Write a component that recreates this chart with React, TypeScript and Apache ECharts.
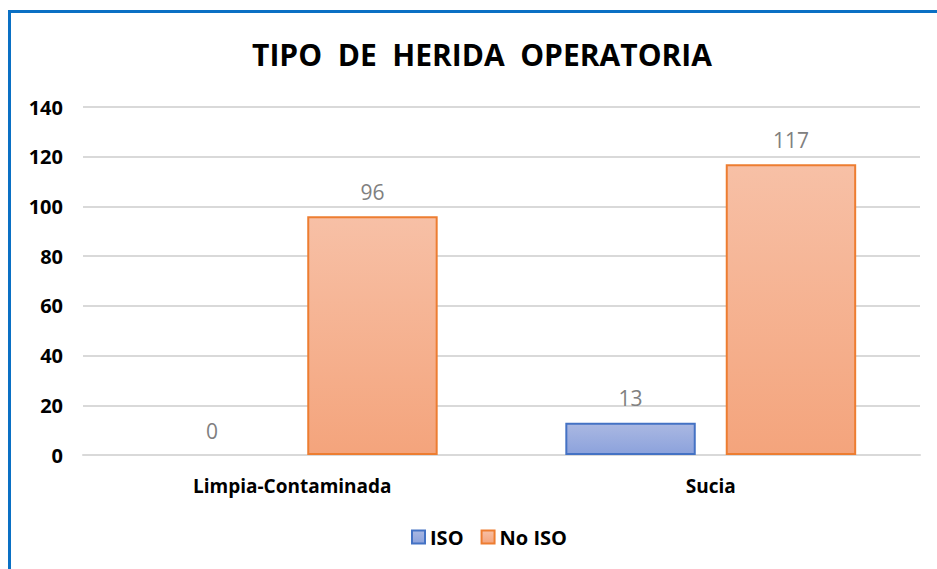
import React, { useEffect, useRef } from "react";
import * as echarts from "echarts";

const categories = ["Limpia-Contaminada", "Sucia"];
const isoValues = [0, 13];
const noIsoValues = [96, 117];
const seriesNames = ["ISO", "No ISO"];
const yTicks = { min: 0, max: 140, interval: 20 };

export default function App() {
  const ref = useRef<HTMLDivElement>(null);
  useEffect(() => {
    const chart = echarts.init(ref.current!, undefined, { renderer: "svg" });
    const font = "'Open Sans', 'Liberation Sans', sans-serif";
    const label = {
      show: true,
      position: "top",
      distance: 14,
      color: "#808080",
      fontSize: 21,
      fontFamily: font,
    };
    const toData = (vals: number[]) =>
      vals.map((v) => (v === 0 ? { value: v, itemStyle: { borderWidth: 0 } } : v));
    chart.setOption({
      animation: false,
      backgroundColor: "#ffffff",
      title: {
        text: "TIPO  DE  HERIDA  OPERATORIA",
        left: 477,
        textAlign: "center",
        top: 34,
        textStyle: { fontFamily: font, fontWeight: "bold", fontSize: 30, color: "#000000" },
      },
      graphic: [
        { type: "line", shape: { x1: 9.5, y1: 11, x2: 9.5, y2: 569 }, style: { stroke: "#0A70C4", lineWidth: 3 } },
        { type: "line", shape: { x1: 8, y1: 11.5, x2: 937, y2: 11.5 }, style: { stroke: "#0A70C4", lineWidth: 3 } },
      ],
      legend: {
        data: seriesNames,
        bottom: 17,
        left: 406,
        icon: "rect",
        itemWidth: 13,
        itemHeight: 13,
        itemGap: 17,
        itemTextGap: 6,
        textStyle: { fontFamily: font, fontWeight: "bold", fontSize: 20, color: "#000000" },
      },
      grid: { left: 83, right: 17, top: 107, bottom: 114 },
      xAxis: {
        type: "category",
        data: categories,
        axisLine: { lineStyle: { color: "#d9d9d9", width: 2 } },
        axisTick: { show: false },
        axisLabel: { fontFamily: font, fontWeight: "bold", fontSize: 19, color: "#000000", margin: 21 },
      },
      yAxis: {
        type: "value",
        min: yTicks.min,
        max: yTicks.max,
        interval: yTicks.interval,
        axisLine: { show: false },
        axisTick: { show: false },
        splitLine: { lineStyle: { color: "#d9d9d9", width: 2 } },
        axisLabel: { fontFamily: font, fontWeight: "bold", fontSize: 20, color: "#000000", margin: 20 },
      },
      series: [
        {
          name: seriesNames[0],
          type: "bar",
          data: toData(isoValues),
          barGap: "23%",
          barCategoryGap: "30.5%",
          itemStyle: {
            color: new echarts.graphic.LinearGradient(0, 0, 0, 1, [
              { offset: 0, color: "#AAB8E2" },
              { offset: 1, color: "#8CA2DC" },
            ]),
            borderColor: "#4472C4",
            borderWidth: 2,
          },
          label,
        },
        {
          name: seriesNames[1],
          type: "bar",
          data: toData(noIsoValues),
          itemStyle: {
            color: new echarts.graphic.LinearGradient(0, 0, 0, 1, [
              { offset: 0, color: "#F7C0A6" },
              { offset: 1, color: "#F4A47C" },
            ]),
            borderColor: "#ED7D31",
            borderWidth: 2,
          },
          label,
        },
      ],
    });
    return () => chart.dispose();
  }, []);
  return (
    <div
      ref={ref}
      style={{ position: "fixed", left: 0, top: 0, width: 937, height: 569 }}
    />
  );
}
